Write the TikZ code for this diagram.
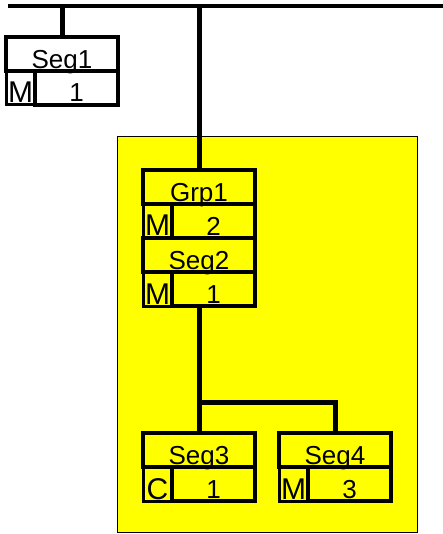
\documentclass[tikz,border=0pt]{standalone}
\usepackage{fontspec}
\setmainfont{Liberation Sans}
\usetikzlibrary{positioning}
\definecolor{panelyellow}{RGB}{255,255,0}

\begin{document}
\begin{tikzpicture}[
    x=1pt, y=-1pt,
    cell/.style={draw,line width=3.5pt,inner sep=0pt,outer sep=0pt,minimum height=34pt,text height=29pt,text depth=0pt,font=\fontsize{26}{26}\selectfont},
    titlecell/.style={cell,minimum width=112pt},
    markcell/.style={cell,line width=3pt,minimum width=29pt,text height=30pt,font=\fontsize{30}{30}\selectfont},
    valcell/.style={cell,text height=28pt,minimum width=83pt},
    wire/.style={line width=5pt},
    bus/.style={line width=3.5pt},
    panel/.style={draw,line width=1pt,fill=panelyellow}
  ]
  \useasboundingbox (0,0) rectangle (443,534);
  \draw[panel] (117,137) rectangle (417,532);

  % segment outside the group
  \node[titlecell,anchor=north] (s1) at (62,37) {Seg1};
  \node[markcell,below right=0pt of s1.south west] (s1m) {M};
  \node[valcell,right=0pt of s1m] (s1v) {1};

  % group with its first segment
  \node[titlecell,anchor=north] (g1) at (199,170) {Grp1};
  \node[markcell,below right=0pt of g1.south west] (g1m) {M};
  \node[valcell,right=0pt of g1m] (g1v) {2};
  \node[titlecell,below right=0pt of g1m.south west] (s2) {Seg2};
  \node[markcell,below right=0pt of s2.south west] (s2m) {M};
  \node[valcell,right=0pt of s2m] (s2v) {1};

  % children
  \node[titlecell,anchor=north] (s3) at (199,433) {Seg3};
  \node[markcell,below right=0pt of s3.south west] (s3m) {C};
  \node[valcell,right=0pt of s3m] (s3v) {1};
  \node[titlecell,anchor=north] (s4) at (335,433) {Seg4};
  \node[markcell,below right=0pt of s4.south west] (s4m) {M};
  \node[valcell,right=0pt of s4m] (s4v) {3};

  \coordinate (busW) at (8,6);
  \coordinate (busE) at (443,6);
  \coordinate (fork) at (199,402);
  \draw[bus] (busW) -- (busE);
  \draw[wire] (s1.north) -- (s1.north |- busW);
  \draw[wire] (g1.north) -- (g1.north |- busW);
  \draw[wire] (s2.south |- s2v.south) -- (s3.north);
  \draw[wire] (fork) -| (s4.north);
\end{tikzpicture}
\end{document}
